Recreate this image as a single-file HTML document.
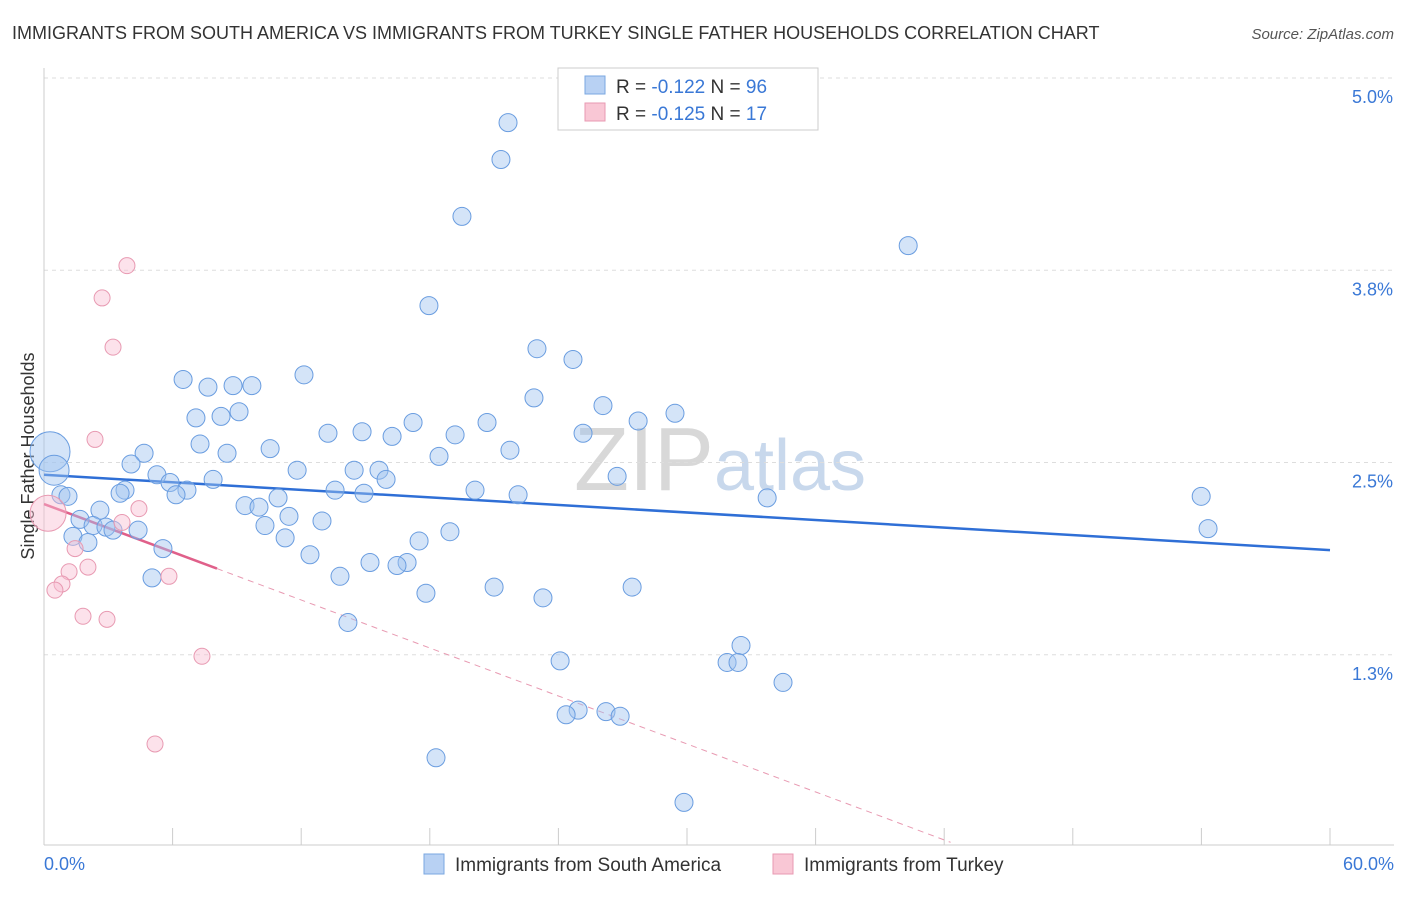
<!DOCTYPE html>
<html><head><meta charset="utf-8"><style>
body{margin:0;background:#fff;font-family:"Liberation Sans",sans-serif}
svg text{font-family:"Liberation Sans",sans-serif}
</style></head><body>
<svg id="chart" width="1406" height="892" xmlns="http://www.w3.org/2000/svg">
<text x="12" y="39" font-size="18" fill="#333">IMMIGRANTS FROM SOUTH AMERICA VS IMMIGRANTS FROM TURKEY SINGLE FATHER HOUSEHOLDS CORRELATION CHART</text>
<text x="1394" y="39" font-size="15" fill="#555" text-anchor="end" font-style="italic">Source: ZipAtlas.com</text>
<text x="720" y="490" font-size="90" fill="#d8d8d8" text-anchor="middle" font-family="Liberation Serif">ZIP<tspan fill="#c8d8ec" font-family="Liberation Sans" font-size="72">atlas</tspan></text>
<text transform="translate(34,456) rotate(-90)" font-size="18" fill="#333" text-anchor="middle">Single Father Households</text>
<g id="grid"></g><g id="axes"></g><g id="trend"></g><g id="pts"></g>
<g>
<rect x="558" y="68" width="260" height="62" fill="#fff" stroke="#ccc"/>
<rect x="585" y="76" width="20" height="18" fill="#b8d1f3" stroke="#7aa7e0"/>
<rect x="585" y="103" width="20" height="18" fill="#f9c7d5" stroke="#e89ab2"/>
<text x="616" y="93" font-size="19" fill="#333">R = <tspan fill="#3a78d6">-0.122</tspan>   N = <tspan fill="#3a78d6">96</tspan></text>
<text x="616" y="120" font-size="19" fill="#333">R = <tspan fill="#3a78d6">-0.125</tspan>   N =  <tspan fill="#3a78d6">17</tspan></text>
</g>
<g>
<rect x="424" y="854" width="20" height="20" fill="#b8d1f3" stroke="#7aa7e0"/>
<text x="455" y="871" font-size="19" fill="#333">Immigrants from South America</text>
<rect x="773" y="854" width="20" height="20" fill="#f9c7d5" stroke="#e89ab2"/>
<text x="804" y="871" font-size="19" fill="#333">Immigrants from Turkey</text>
</g>
</svg>
<script>
const blueX=[21.65,21.32,19.50,40.32,17.96,23.00,24.68,12.13,6.49,7.65,8.82,9.70,22.86,26.08,29.44,9.10,8.26,7.09,17.22,20.67,27.72,13.25,14.84,16.24,19.18,25.15,7.28,10.55,4.67,8.54,21.74,18.43,4.06,11.81,14.47,15.63,5.27,26.74,15.96,7.89,5.88,6.67,3.78,13.58,20.11,3.55,6.16,14.93,22.12,33.74,53.99,10.92,0.79,1.12,9.38,10.03,2.61,11.43,1.68,12.97,2.29,10.31,2.89,3.22,4.39,18.94,54.31,1.35,11.25,17.50,2.05,5.55,12.41,15.21,16.94,16.47,13.81,5.04,21.00,27.44,17.82,23.28,14.18,32.52,24.08,31.87,32.38,34.48,24.92,24.36,26.22,26.88,18.29,29.86,0.28,0.47];
const blueY=[4.71,4.47,4.10,3.91,3.52,3.24,3.17,3.07,3.04,2.99,3.00,3.00,2.92,2.87,2.82,2.83,2.80,2.79,2.76,2.76,2.77,2.69,2.70,2.67,2.68,2.69,2.62,2.59,2.56,2.56,2.58,2.54,2.49,2.45,2.45,2.45,2.42,2.41,2.39,2.39,2.37,2.32,2.32,2.32,2.32,2.30,2.29,2.30,2.29,2.27,2.28,2.27,2.29,2.28,2.22,2.21,2.19,2.15,2.13,2.12,2.09,2.09,2.08,2.06,2.06,2.05,2.07,2.02,2.01,1.99,1.98,1.94,1.90,1.85,1.85,1.83,1.76,1.75,1.69,1.69,1.65,1.62,1.46,1.31,1.21,1.20,1.20,1.07,0.89,0.86,0.88,0.85,0.58,0.29,2.57,2.45];
const blueR=blueX.map((v,i)=>i>=94?(i==94?20:15):9);
const pinkX=[3.87,2.71,3.22,2.38,4.43,3.64,1.45,2.05,5.83,1.17,0.84,0.51,1.82,2.94,7.37,5.18,0.19];
const pinkY=[3.78,3.57,3.25,2.65,2.20,2.11,1.94,1.82,1.76,1.79,1.71,1.67,1.50,1.48,1.24,0.67,2.17];
const xTicks=[0,6,12,18,24,30,36,42,48,54,60];
const yTicks=[1.25,2.5,3.75,5.0];
const yTickLabels=["1.3%","2.5%","3.8%","5.0%"];
const blueTrend=[2.42,1.93];
const pinkTrend=[2.23,-0.052];
const X=v=>44+v*1286/60, Y=v=>78+(5-v)*153.8;
const NS="http://www.w3.org/2000/svg";
function mk(t,p,a){const e=document.createElementNS(NS,t);for(const k in a)e.setAttribute(k,a[k]);p.appendChild(e);return e;}
const grid=document.getElementById('grid'),axes=document.getElementById('axes'),tr=document.getElementById('trend'),pts=document.getElementById('pts');
yTicks.forEach((v,i)=>{const l=mk('line',grid,{x1:44,x2:1394,y1:Y(v),y2:Y(v),stroke:'#ddd','stroke-dasharray':'4,4'});


const t=mk('text',grid,{x:1393,y:Y(v)+25,'font-size':18,fill:'#3a78d6','text-anchor':'end'});t.textContent=yTickLabels[i];

});
const ax=mk('line',axes,{x1:44,x2:1394,y1:845,y2:845,stroke:'#ccc'});


const ay=mk('line',axes,{x1:44,x2:44,y1:68,y2:845,stroke:'#ccc'});


xTicks.forEach(v=>{const l=mk('line',axes,{x1:X(v),x2:X(v),y1:828,y2:845,stroke:'#ccc'});

});
[[0,'0.0%','start',44],[60,'60.0%','end',1394]].forEach(a=>{const t=mk('text',axes,{x:a[3],y:870,'font-size':18,fill:'#3a78d6','text-anchor':a[2]});t.textContent=a[1];

});
const bl=mk('line',tr,{x1:X(0),y1:Y(blueTrend[0]),x2:X(60),y2:Y(blueTrend[1]),stroke:'#2f6fd6','stroke-width':2.5});


const pe=(v)=>pinkTrend[0]+pinkTrend[1]*v;
const pl=mk('line',tr,{x1:X(0),y1:Y(pe(0)),x2:X(8.07),y2:Y(pe(8.07)),stroke:'#e0608a','stroke-width':2.5});


const pd=mk('line',tr,{x1:X(8.07),y1:Y(pe(8.07)),x2:X(42.3),y2:Y(pe(42.3)),stroke:'#e89ab2','stroke-width':1,'stroke-dasharray':'6,5'});


blueX.forEach((v,i)=>{const c=mk('circle',pts,{cx:X(v),cy:Y(blueY[i]),r:blueR[i],fill:'rgba(160,195,240,0.45)',stroke:'#6a9de0','stroke-width':1});

});
pinkX.forEach((v,i)=>{const c=mk('circle',pts,{cx:X(v),cy:Y(pinkY[i]),r:i==16?18:8,fill:'rgba(248,190,210,0.45)',stroke:'#e89ab2','stroke-width':1});

});
</script>
</body></html>
